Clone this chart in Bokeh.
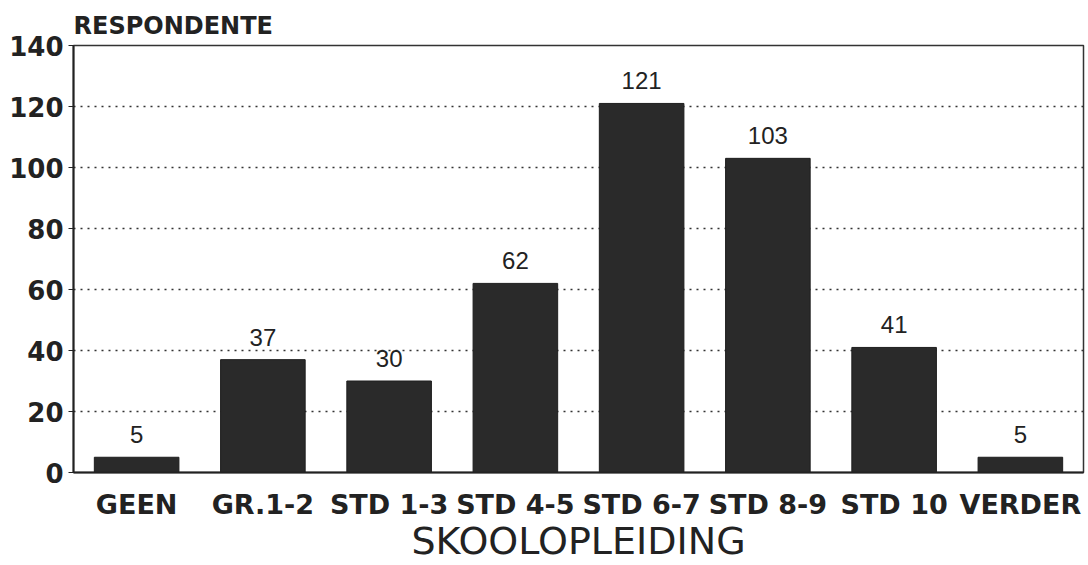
from bokeh.plotting import figure
from bokeh.models import ColumnDataSource, FixedTicker, Range1d
from bokeh.core.properties import value
from bokeh.embed import file_html
from bokeh.resources import INLINE

categories = ["GEEN", "GR.1-2", "STD 1-3", "STD 4-5", "STD 6-7", "STD 8-9", "STD 10", "VERDER"]
counts = [5, 37, 30, 62, 121, 103, 41, 5]
y_ticks = [0, 20, 40, 60, 80, 100, 120, 140]

xs = list(range(len(categories)))
src = ColumnDataSource(dict(x=xs, top=counts, lbl=[str(c) for c in counts]))

p = figure(width=1088, height=565, output_backend="svg", toolbar_location=None,
           x_range=Range1d(-0.5, len(categories) - 0.5), y_range=Range1d(0, 140),
           min_border_left=73, min_border_right=5, min_border_top=45, min_border_bottom=88,
           title="RESPONDENTE")

p.title.align = "left"
p.title.text_font = "DejaVu Sans"
p.title.text_font_style = "bold"
p.title.text_font_size = "24px"
p.title.text_color = "#222222"
p.title.standoff = 12
p.title.offset = 0

p.vbar(x="x", top="top", width=0.67, bottom=0, source=src, fill_color="#2a2a2a", line_color="#1e1e1e")
p.text(x="x", y="top", text="lbl", source=src, text_align="center", text_baseline="bottom",
       y_offset=-14, text_font=value("Liberation Sans"), text_font_size="24px", text_color="#222222")

p.xaxis.ticker = FixedTicker(ticks=xs)
p.xaxis.major_label_overrides = {i: c for i, c in enumerate(categories)}
p.yaxis.ticker = FixedTicker(ticks=y_ticks)

for ax in (p.xaxis[0], p.yaxis[0]):
    ax.axis_line_color = "#222222"
    ax.axis_line_width = 2
    ax.minor_tick_line_color = None
    ax.major_label_text_font = "DejaVu Sans"
    ax.major_label_text_font_style = "bold"
    ax.major_label_text_color = "#222222"

p.xaxis.major_tick_line_color = None
p.xaxis.major_tick_out = 0
p.xaxis.major_tick_in = 0
p.xaxis.major_label_text_font_size = "27px"
p.xaxis.major_label_standoff = 16
p.xaxis.axis_label = "SKOOLOPLEIDING"
p.xaxis.axis_label_text_font = "DejaVu Sans"
p.xaxis.axis_label_text_font_style = "normal"
p.xaxis.axis_label_text_font_size = "38px"
p.xaxis.axis_label_text_color = "#222222"
p.xaxis.axis_label_standoff = -4

p.yaxis.major_tick_out = 5
p.yaxis.major_tick_in = 0
p.yaxis.major_tick_line_color = "#222222"
p.yaxis.major_label_text_font_size = "26px"
p.yaxis.major_label_standoff = 5

p.xgrid.grid_line_color = None
p.ygrid.grid_line_color = "#333333"
p.ygrid.grid_line_dash = "2 5"
p.ygrid.grid_line_width = 1.5

p.outline_line_color = "#333333"
p.outline_line_width = 1.5
p.background_fill_color = "white"
p.border_fill_color = "white"

open("out.html", "w").write(file_html(p, INLINE))
